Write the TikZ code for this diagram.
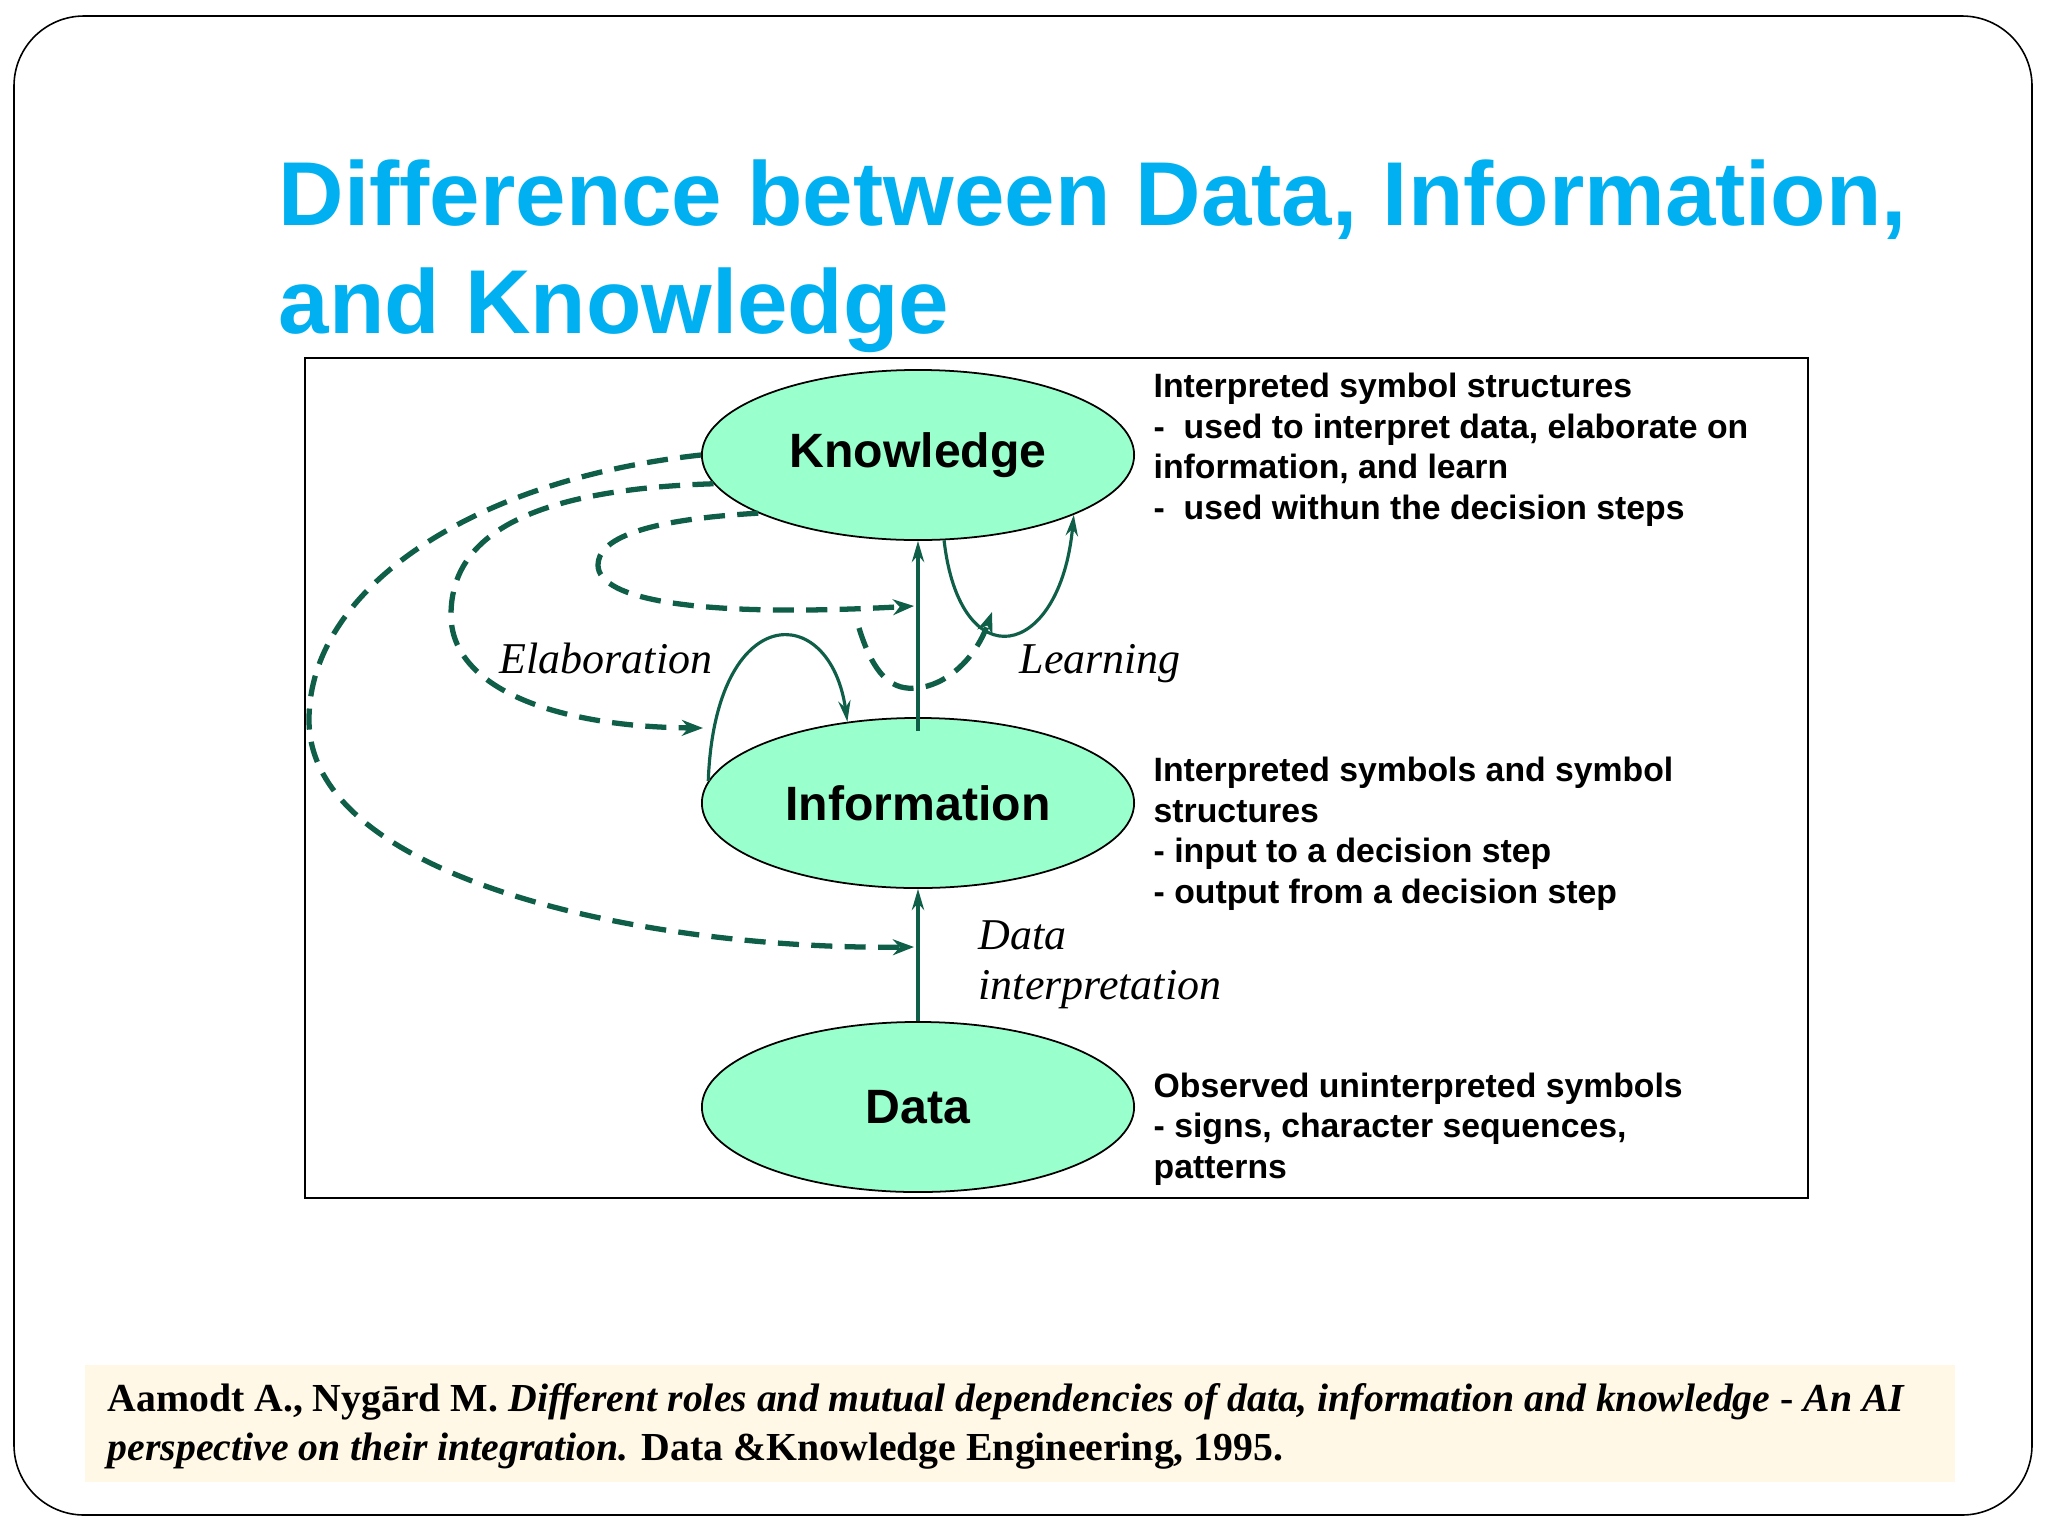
\documentclass[tikz,border=0pt]{standalone}
\usepackage{fontspec}
\setmainfont{Liberation Serif}
\setsansfont{Liberation Sans}
\usetikzlibrary{shapes.geometric,arrows.meta}

\definecolor{titleblue}{RGB}{0,176,240}
\definecolor{mint}{RGB}{153,255,204}
\definecolor{linkgreen}{RGB}{15,94,72}
\definecolor{cream}{RGB}{255,248,230}

\begin{document}
\begin{tikzpicture}[x=0.01cm, y=-0.01cm,
    stage/.style={ellipse, draw=black, line width=0.5pt, fill=mint, minimum width=4.32cm, minimum height=1.70cm, inner sep=0pt, font=\sffamily\bfseries\fontsize{13.7}{16}\selectfont},
    note/.style={anchor=base west, align=left, inner sep=0pt, font=\sffamily\bfseries\fontsize{9.6}{11.5}\selectfont},
    verb/.style={anchor=base west, align=left, inner sep=0pt, font=\itshape\fontsize{12.5}{14.2}\selectfont},
    flow/.style={linkgreen, line width=0.9pt, -{Stealth[length=6pt,width=3.5pt]}},
    feedback/.style={linkgreen, line width=1.5pt, dash pattern=on 6pt off 3.5pt, -{Stealth[length=6pt,width=4.5pt]}}]
        \useasboundingbox (0,0) rectangle (2048,1536);

        % Slide frame and title (multi-line nodes sit on their last baseline)
        \draw[line width=0.45pt, rounded corners=0.7cm] (14,16) rectangle (2032,1515);
        \node[anchor=base west, inner sep=0pt, align=left, text=titleblue, font=\sffamily\bfseries\fontsize{25.8}{30.5}\selectfont] (title) at (278,333) {Difference between Data, Information,\\and Knowledge};

        % Diagram frame
        \draw[line width=0.75pt] (305,358) rectangle (1808,1198);

        % Levels
        \node[stage] (know) at (918,455) {Knowledge};
        \node[stage] (info) at (918,803) {Information};
        \node[stage] (data) at (918,1107) {Data};

        % Descriptions
        \node[note] (knownote) at (1153,519) {Interpreted symbol structures\\-\ \ used to interpret data, elaborate on\\information, and learn\\-\ \ used withun the decision steps};
        \node[note] (infonote) at (1153,903) {Interpreted symbols and symbol\\structures\\- input to a decision step\\- output from a decision step};
        \node[note] (datanote) at (1153,1178) {Observed uninterpreted symbols\\- signs, character sequences,\\patterns};

        % Process labels
        \node[verb] (elab) at (499,673) {Elaboration};
        \node[verb] (learn) at (1019,673) {Learning};
        \node[verb] (interp) at (978,999) {Data\\interpretation};

        % Free ends of the dashed arrows
        \coordinate (upmid) at (914,606);
        \coordinate (lowmid) at (914,947);
        \coordinate (elabin) at (703,728);
        \coordinate (learnout) at (859,628);
        \coordinate (learnin) at (992,612);

        % Solid arrows
        \draw[flow] (data.north) -- (info.south);
        \draw[flow] ([yshift=-0.14cm]info.north) -- (know.south);
        \draw[flow] (info.174) .. controls (715,600) and (830,600) .. (info.131); % elaboration loop
        \draw[flow] (know.-73) .. controls (960,680) and (1060,660) .. (know.-21); % learning loop

        % Dashed arrows
        \draw[feedback] (know.180) .. controls (470,480) and (309,590) .. (309,720) .. controls (309,880) and (650,950) .. (lowmid);
        \draw[feedback] (know.188) .. controls (520,490) and (451,540) .. (451,615) .. controls (451,690) and (560,727) .. (elabin);
        \draw[feedback] (know.200) .. controls (640,520) and (598,540) .. (598,565) .. controls (598,600) and (700,618) .. (upmid);
        \draw[feedback] (learnout) .. controls (875,680) and (895,690) .. (916,688) .. controls (945,686) and (975,660) .. (learnin);

        % Reference
        \fill[cream] (85,1365) rectangle (1955,1482);
        \node[anchor=base west, inner sep=0pt, align=left, font=\bfseries\fontsize{11.3}{13.7}\selectfont] (cite) at (107,1460) {Aamodt A., Nygārd M. \textit{Different roles and mutual dependencies of data, information and knowledge} - \textit{An AI}\\\textit{perspective on their integration.} Data \&Knowledge Engineering, 1995.};
    \end{tikzpicture}
\end{document}
